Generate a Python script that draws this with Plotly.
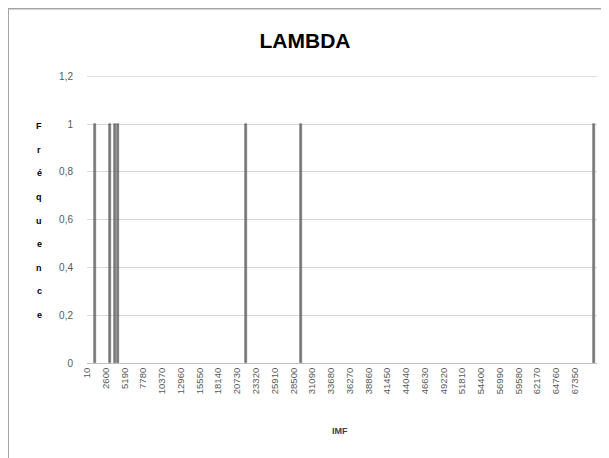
import plotly.graph_objects as go

# Data
imf_values = [1100, 3220, 3900, 4250, 21900, 29530, 70000]
frequencies = [1, 1, 1, 1, 1, 1, 1]
x_tick_vals = [10 + 2590 * i for i in range(27)]
x_tick_text = [str(v) for v in x_tick_vals]
y_tick_vals = [0, 0.2, 0.4, 0.6, 0.8, 1.0, 1.2]
y_tick_text = ["0", "0,2", "0,4", "0,6", "0,8", "1", "1,2"]
y_title_letters = list("Fréquence")

# page offset of the default html body margin
OFF = 8
W, H = 609 - OFF, 458 - OFF
L, R, T, B = 87 - OFF, 12, 76 - OFF, 95
pw = W - L - R
ph = H - T - B


def px_x(px):
    return (px - OFF - L) / pw


def px_y(py):
    return (T + ph - (py - OFF)) / ph


fig = go.Figure()
fig.add_trace(go.Bar(
    x=imf_values, y=frequencies, width=300,
    marker=dict(color="#7a7a7a", line=dict(color="#666666", width=0.6)),
))

font_family = "Liberation Sans, Arial, sans-serif"

fig.update_layout(
    width=W, height=H,
    margin=dict(l=L, r=R, t=T, b=B),
    paper_bgcolor="white", plot_bgcolor="white",
    showlegend=False,
    font=dict(family=font_family, color="#595959", size=10),
    title=dict(text="<b>LAMBDA</b>", x=(305 - OFF) / W, xanchor="center", xref="container",
               y=1 - (41 - OFF) / H, yanchor="middle", yref="container",
               font=dict(size=21, color="#000000", family=font_family)),
    xaxis=dict(range=[0, 70400], tickmode="array", tickvals=x_tick_vals,
               ticktext=x_tick_text, tickangle=-90, showgrid=False,
               showline=True, linecolor="#bfbfbf", linewidth=1,
               ticks="", tickfont=dict(size=9.5, color="#595959"),
               zeroline=False, fixedrange=True),
    yaxis=dict(range=[0, 1.2015], tickmode="array", tickvals=y_tick_vals,
               ticktext=y_tick_text, showgrid=True, gridcolor="#d9d9d9",
               gridwidth=1, showline=False, zeroline=False, ticks="",
               tickfont=dict(size=10, color="#595959"), ticklabelstandoff=13),
    bargap=0,
)

# top gridline (at the top of the value range)
fig.add_shape(type="line", xref="paper", yref="y", x0=0, x1=1,
              y0=y_tick_vals[-1], y1=y_tick_vals[-1],
              line=dict(color="#d9d9d9", width=1), layer="below")

# x axis title
fig.add_annotation(text="<b>IMF</b>", xref="paper", yref="paper",
                   x=px_x(340), y=px_y(431),
                   showarrow=False, xanchor="center", yanchor="middle",
                   font=dict(size=9, color="#404040", family=font_family))

# stacked y axis title letters
n = len(y_title_letters)
for i, ch in enumerate(y_title_letters):
    py = 126 + i * (315 - 126) / (n - 1)
    fig.add_annotation(text="<b>" + ch + "</b>", xref="paper", yref="paper",
                       x=px_x(39), y=px_y(py),
                       showarrow=False, xanchor="center", yanchor="middle",
                       font=dict(size=9, color="#000000", family=font_family))

# screenshot frame lines (left and top)
fig.add_shape(type="line", xref="paper", yref="paper",
              x0=px_x(8), x1=px_x(8), y0=px_y(8), y1=px_y(458),
              line=dict(color="#a6a6a6", width=2))
fig.add_shape(type="line", xref="paper", yref="paper",
              x0=px_x(8), x1=px_x(609), y0=px_y(8.5), y1=px_y(8.5),
              line=dict(color="#a6a6a6", width=2))

fig.write_html("out.html")
